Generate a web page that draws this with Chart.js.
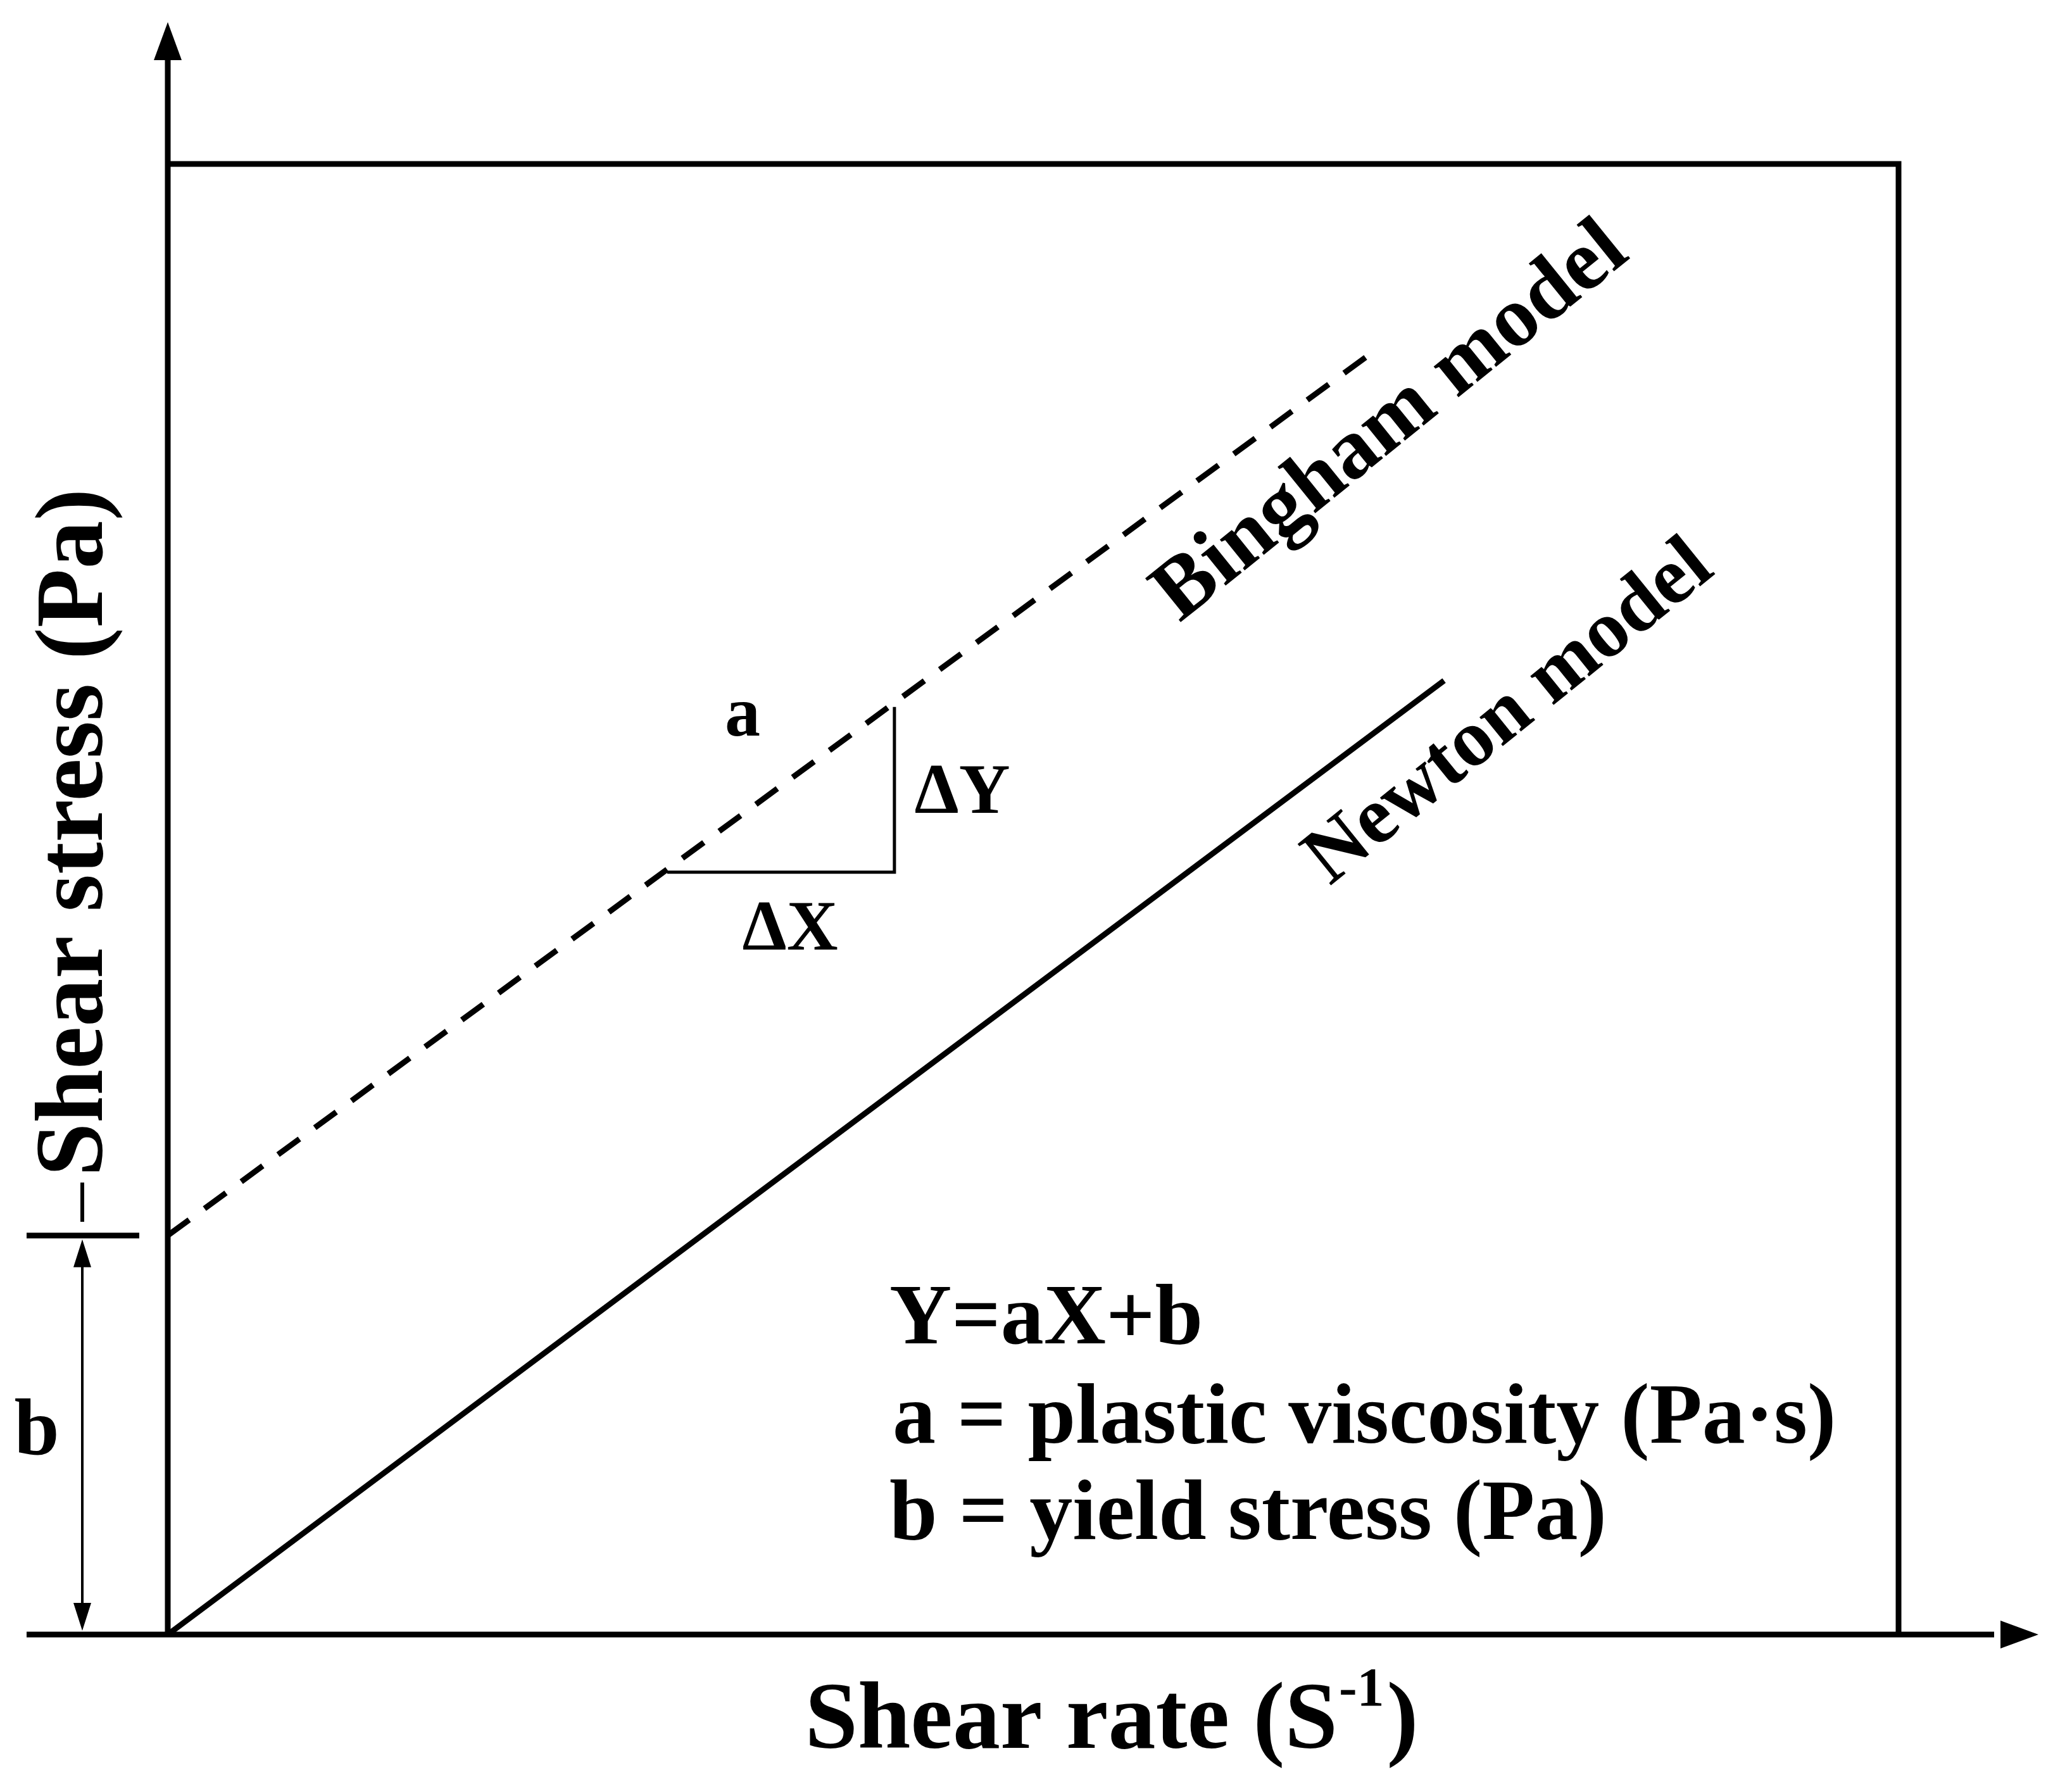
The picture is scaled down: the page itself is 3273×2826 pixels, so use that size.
<!DOCTYPE html>
<html>
<head>
<meta charset="utf-8">
<script src="https://cdn.jsdelivr.net/npm/chart.js@4"></script>
<style>
  html, body { margin: 0; padding: 0; background: #fff; }
  canvas { display: block; }
</style>
</head>
<body>
<canvas id="chart" width="3273" height="2826"></canvas>
<script>
// values in arbitrary units (schematic diagram)
const binghamX = [0, 918];
const binghamY = [302, 975];
const newtonX = [0, 966];
const newtonY = [0, 722];
const deltaX = [378, 550, 550];
const deltaY = [577, 577, 702];
const yieldStress = 302;
const xMax = 1310;
const yMax = 1113;

const FONT = "'Liberation Serif', 'Times New Roman', serif";
const LW = 9;

function pts(xs, ys) {
    return xs.map((x, i) => ({ x: x, y: ys[i] }));
}

// axes, arrows, frame and annotation texts
const decor = {
    id: "decor",
    afterDraw(chart) {
        const ctx = chart.ctx;
        const xs = chart.scales.x;
        const ys = chart.scales.y;
        const x0 = xs.getPixelForValue(0);
        const x1 = xs.getPixelForValue(xMax);
        const y0 = ys.getPixelForValue(0);
        const y1 = ys.getPixelForValue(yMax);
        const yb = ys.getPixelForValue(yieldStress);

        ctx.save();
        ctx.strokeStyle = "#000";
        ctx.fillStyle = "#000";
        ctx.lineWidth = LW;
        ctx.lineCap = "butt";

        // frame top and right
        ctx.beginPath();
        ctx.moveTo(x0, y1);
        ctx.lineTo(x1, y1);
        ctx.lineTo(x1, y0);
        ctx.stroke();

        // y axis with arrow
        ctx.beginPath();
        ctx.moveTo(x0, y0);
        ctx.lineTo(x0, 75);
        ctx.stroke();
        ctx.beginPath();
        ctx.moveTo(x0, 35);
        ctx.lineTo(x0 - 22, 95);
        ctx.lineTo(x0 + 22, 95);
        ctx.closePath();
        ctx.fill();

        // x axis with arrow
        ctx.beginPath();
        ctx.moveTo(42, y0);
        ctx.lineTo(3150, y0);
        ctx.stroke();
        ctx.beginPath();
        ctx.moveTo(3220, y0);
        ctx.lineTo(3160, y0 - 22);
        ctx.lineTo(3160, y0 + 22);
        ctx.closePath();
        ctx.fill();

        // yield stress tick and double arrow
        ctx.beginPath();
        ctx.moveTo(42, yb);
        ctx.lineTo(220, yb);
        ctx.stroke();
        const ax = 130;
        ctx.lineWidth = 4;
        ctx.beginPath();
        ctx.moveTo(ax, yb + 30);
        ctx.lineTo(ax, y0 - 30);
        ctx.stroke();
        ctx.beginPath();
        ctx.moveTo(ax, yb + 6); ctx.lineTo(ax - 14, yb + 50); ctx.lineTo(ax + 14, yb + 50); ctx.closePath();
        ctx.moveTo(ax, y0 - 6); ctx.lineTo(ax - 14, y0 - 50); ctx.lineTo(ax + 14, y0 - 50); ctx.closePath();
        ctx.fill();
        ctx.lineWidth = 6;
        ctx.beginPath();
        ctx.moveTo(ax, 1868); ctx.lineTo(ax, 1930);
        ctx.stroke();

        // texts
        ctx.textAlign = "center";
        ctx.textBaseline = "middle";
        ctx.font = "bold 150px " + FONT;
        const w = ctx.measureText("Shear rate (S").width;
        ctx.font = "bold 86px " + FONT;
        const w2 = ctx.measureText("-1").width;
        ctx.font = "bold 150px " + FONT;
        const w3 = ctx.measureText(")").width;
        let sx = 1753 - (w + w2 + w3) / 2;
        ctx.textAlign = "left";
        ctx.fillText("Shear rate (S", sx, 2722);
        ctx.font = "bold 86px " + FONT;
        ctx.fillText("-1", sx + w + 2, 2672);
        ctx.font = "bold 150px " + FONT;
        ctx.fillText(")", sx + w + w2 + 6, 2722);

        ctx.save();
        ctx.translate(122, 1315);
        ctx.rotate(-Math.PI / 2);
        ctx.textAlign = "center";
        ctx.font = "bold 152px " + FONT;
        ctx.fillText("Shear stress (Pa)", 0, 0);
        ctx.restore();

        ctx.textAlign = "center";
        ctx.font = "bold 136px " + FONT;
        ctx.save();
        ctx.translate(2198, 668);
        ctx.rotate(-39 * Math.PI / 180);
        ctx.fillText("Bingham model", 0, 0);
        ctx.restore();
        ctx.font = "bold 128px " + FONT;
        ctx.save();
        ctx.translate(2385, 1127);
        ctx.rotate(-39 * Math.PI / 180);
        ctx.fillText("Newton model", 0, 0);
        ctx.restore();

        ctx.font = "bold 112px " + FONT;
        ctx.fillText("a", 1173, 1133);
        ctx.fillText("\u0394Y", 1520, 1255);
        ctx.fillText("\u0394X", 1248, 1471);
        ctx.font = "bold 128px " + FONT;
        ctx.fillText("b", 58, 2264);

        ctx.font = "bold 136px " + FONT;
        ctx.textAlign = "left";
        ctx.fillText("Y=aX+b", 1405, 2087);
        ctx.fillText("a = plastic viscosity (Pa\u00b7s)", 1410, 2244);
        ctx.fillText("b = yield stress (Pa)", 1405, 2396);
        ctx.restore();
    }
};

new Chart(document.getElementById("chart"), {
    type: "scatter",
    data: {
        datasets: [
            {
                label: "Bingham model",
                data: pts(binghamX, binghamY),
                showLine: true,
                borderColor: "#000",
                borderWidth: LW,
                borderDash: [42, 30],
                pointRadius: 0
            },
            {
                label: "Newton model",
                data: pts(newtonX, newtonY),
                showLine: true,
                borderColor: "#000",
                borderWidth: LW,
                pointRadius: 0
            },
            {
                label: "slope",
                data: pts(deltaX, deltaY),
                showLine: true,
                borderColor: "#000",
                borderWidth: 5,
                pointRadius: 0
            }
        ]
    },
    options: {
        responsive: false,
        animation: false,
        layout: { padding: { left: 265, right: 274, top: 259, bottom: 244 } },
        plugins: { legend: { display: false }, tooltip: { enabled: false } },
        scales: {
            x: { type: "linear", min: 0, max: xMax, display: false },
            y: { type: "linear", min: 0, max: yMax, display: false }
        }
    },
    plugins: [decor]
});
</script>
</body>
</html>
